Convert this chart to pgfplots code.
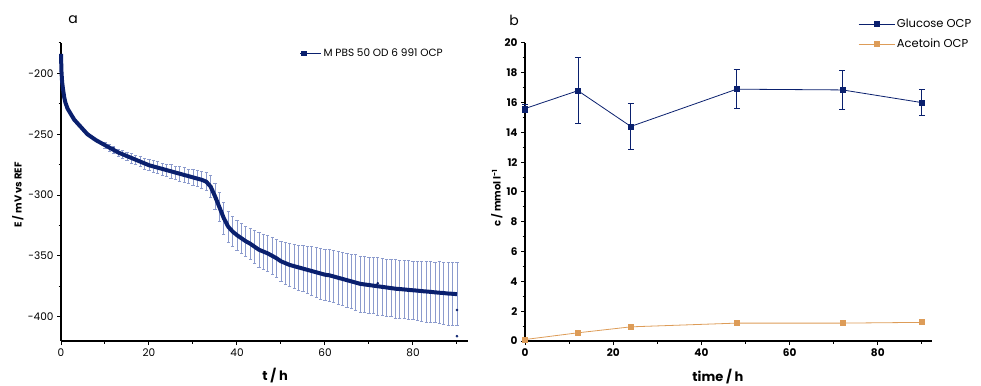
\documentclass[border=0pt]{standalone}
\usepackage{fontspec}
\setmainfont{Poppins}
\usepackage{pgfplots}
\pgfplotsset{compat=1.18}
\usepackage{pgfplotstable}
\definecolor{navy}{RGB}{10,32,110}
\definecolor{errblue}{RGB}{140,155,205}
\definecolor{orng}{RGB}{221,156,88}

\pgfplotstableread{
t E
0 -184
0.1 -198
0.25 -207
0.5 -214
0.75 -220
1 -224
1.5 -229
2 -232
2.5 -235
3 -238
4 -242
5 -246
6 -250
7 -252.5
8 -255
9 -257
10 -259
11 -261
12 -263
13 -265
14 -266.5
15 -268
16 -269.5
17 -271
18 -272.5
19 -274
20 -275.5
21 -276.5
22 -277.5
23 -278.5
24 -279.5
25 -280.5
26 -281.5
27 -282.5
28 -283.5
29 -284.5
30 -285.5
31 -286.5
32 -287.5
33 -289
34 -293
35 -301
36 -310
37 -319
38 -326
39 -330
40 -333
41 -335.5
42 -338
43 -340
44 -342.5
45 -345
46 -346.5
47 -348
48 -350
49 -352
50 -354.5
51 -356
52 -357.5
53 -358.5
54 -359.5
55 -360.5
56 -361.5
57 -362.5
58 -363.5
59 -364.5
60 -365.5
61 -366
62 -367
63 -368
64 -369
65 -370
66 -371
67 -372
68 -373
69 -373.5
70 -374
71 -374.5
72 -375
73 -375.5
74 -376
75 -376.5
76 -377
77 -377.3
78 -377.6
79 -378
80 -378.3
81 -378.6
82 -379
83 -379.3
84 -379.6
85 -380
86 -380.3
87 -380.6
88 -381
89 -381.2
90 -381.5
}\curve

\pgfplotstableread{
t E err
10 -259 2.5
11 -261 3
12 -263 3
13 -265 3
14 -266.5 3.5
15 -268 3.5
16 -269.5 4
17 -271 4
18 -272.5 4
19 -274 4.5
20 -275.5 4.5
21 -276.5 5
22 -277.5 5
23 -278.5 5
24 -279.5 5
25 -280.5 5.5
26 -281.5 5.5
27 -282.5 6
28 -283.5 6
29 -284.5 6
30 -285.5 6.5
31 -286.5 6.5
32 -287.5 7
33 -289 7.5
34 -293 9
35 -301 11
36 -310 12
37 -319 13
38 -326 13
39 -330 12.5
40 -333 12.5
41 -335.5 12.5
42 -338 12.5
43 -340 13
44 -342.5 13.5
45 -345 14
46 -346.5 14.5
47 -348 15
48 -350 15.5
49 -352 16
50 -354.5 16.5
51 -356 17
52 -357.5 17.5
53 -358.5 18
54 -359.5 18.5
55 -360.5 19
56 -361.5 19.5
57 -362.5 20
58 -363.5 20.5
59 -364.5 21
60 -365.5 21
61 -366 21.5
62 -367 21.5
63 -368 22
64 -369 22
65 -370 22.5
66 -371 22.5
67 -372 23
68 -373 23
69 -373.5 23
70 -374 23
71 -374.5 23
72 -375 23.5
73 -375.5 23.5
74 -376 23.5
75 -376.5 23.5
76 -377 24
77 -377.3 24
78 -377.6 24
79 -378 24
80 -378.3 24
81 -378.6 24.5
82 -379 24.5
83 -379.3 25
84 -379.6 25
85 -380 25
86 -380.3 25.5
87 -380.6 25.5
88 -381 26
89 -381.2 26
90 -381.5 26
}\errs

\pgfplotsset{gp/.style={
  scale only axis, width=407pt, height=298pt,
  axis x line*=bottom, axis y line*=left,
  axis line style={line width=1.3pt, -},
  tick align=outside, tick style={black, line width=1pt},
  major tick length=4pt, minor tick length=2.5pt,
  tick label style={font=\fontsize{10.5}{11}\selectfont},
  /pgf/number format/assume math mode=true,
  clip=false,
}}

\begin{document}
\begin{tikzpicture}
% ---------- panel a ----------
\begin{axis}[gp,
  at={(61pt,44pt)}, anchor=south west,
  xmin=0, xmax=92.5, ymin=-420, ymax=-175,
  xtick={0,20,40,60,80}, minor xtick={10,30,50,70,90},
  ytick={-400,-350,-300,-250,-200}, minor ytick={-375,-325,-275,-225,-175},
  xlabel={t / h}, ylabel={E / mV vs REF},
  xlabel style={at={(axis description cs:0.526,-0.117)}, anchor=center, font=\fontsize{13}{14}\selectfont\bfseries},
  ylabel style={at={(axis description cs:-0.106,0.49)}, anchor=center, font=\fontsize{10}{11}\selectfont\bfseries},
  legend style={at={(axis description cs:0.580,0.966)}, anchor=west, draw=none, fill=none,
    font=\fontsize{10.5}{11}\selectfont},
  legend image code/.code={\draw[#1] plot coordinates {(0pt,0pt)}; \path (-3pt,0pt) -- (18pt,0pt);},
]
\addplot[errblue, draw=none, forget plot,
  error bars/.cd, y dir=both, y explicit,
  error bar style={errblue, line width=0.6pt},
  error mark options={rotate=90, mark size=1.6pt, errblue, line width=0.6pt}]
  table[x=t, y=E, y error=err] {\errs};
\addplot[navy, line width=4pt, forget plot] table[x=t, y=E] {\curve};
\addplot[navy, only marks, mark=*, mark size=1.1pt, forget plot]
  coordinates {(90,-394.5) (90,-416) (12,-261.5) (72,-372.5)};
\addlegendimage{only marks, mark=square*, navy, mark size=2.3pt}
\addlegendentry{M PBS 50 OD 6 991 OCP}
\node[font=\fontsize{14}{15}\selectfont, anchor=center] at (axis description cs:0.03,1.077) {a};
\end{axis}
% ---------- panel b ----------
\begin{axis}[gp,
  at={(525pt,44pt)}, anchor=south west,
  xmin=0, xmax=92.3, ymin=0, ymax=20,
  xtick={0,20,40,60,80}, minor xtick={10,30,50,70,90},
  ytick={0,2,...,20}, minor ytick={1,3,...,19},
  tick label style={font=\fontsize{10.5}{11}\selectfont\bfseries},
  xlabel={time / h}, ylabel={c / mmol l\textsuperscript{-1}},
  xlabel style={at={(axis description cs:0.474,-0.12)}, anchor=center, font=\fontsize{13}{14}\selectfont\bfseries},
  ylabel style={at={(axis description cs:-0.069,0.48)}, anchor=center, font=\fontsize{10}{11}\selectfont\bfseries},
  legend style={at={(axis description cs:0.818,1.088)}, anchor=north west, draw=none, fill=none,
    font=\fontsize{11.5}{12}\selectfont, row sep=6pt, inner sep=0pt},
  legend cell align=left,
  legend image code/.code={\draw[mark repeat=2, mark phase=2, #1] plot coordinates {(0pt,0pt) (18pt,0pt) (36pt,0pt)};},
]
\addplot[navy, line width=0.8pt, mark=square*, mark size=2.5pt,
  error bars/.cd, y dir=both, y explicit,
  error bar style={navy, line width=0.8pt},
  error mark options={rotate=90, mark size=3pt, navy, line width=0.8pt}]
  coordinates {(0,15.6) +- (0,0.25) (12,16.8) +- (0,2.2) (24,14.4) +- (0,1.55)
               (48,16.9) +- (0,1.3) (72,16.85) +- (0,1.3) (90,16.0) +- (0,0.87)};
\addlegendentry{Glucose OCP}
\addplot[orng, line width=0.8pt, mark=square*, mark size=2.5pt]
  coordinates {(0,0.1) (12,0.55) (24,0.95) (48,1.2) (72,1.2) (90,1.25)};
\addlegendentry{Acetoin OCP}
\node[font=\fontsize{14}{15}\selectfont, anchor=center] at (axis description cs:-0.027,1.077) {b};
\end{axis}
\pgfresetboundingbox
\path (0pt,0pt) rectangle (981pt,385pt);
\end{tikzpicture}
\end{document}
